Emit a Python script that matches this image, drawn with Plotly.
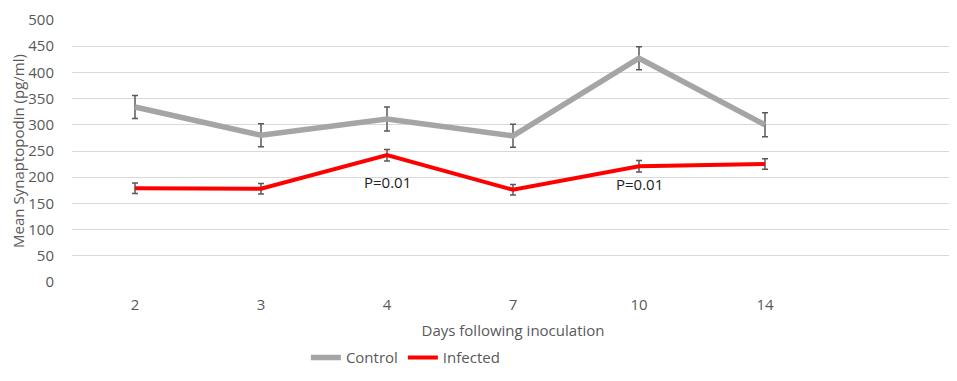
import plotly.graph_objects as go

days = ["2", "3", "4", "7", "10", "14"]
control = [334, 280, 311, 279, 427, 300]
control_err = [22, 22, 23, 22, 22, 23]
infected = [179, 178, 242, 176, 221, 225]
infected_err = [10, 10, 11, 10, 11, 10]
y_ticks = [0, 50, 100, 150, 200, 250, 300, 350, 400, 450, 500]
pvals = [(2, 191, "P=0.01"), (4, 187, "P=0.01")]

xs = list(range(len(days)))
font = "Open Sans, Lato, sans-serif"

fig = go.Figure()
fig.add_trace(go.Scatter(
    x=xs, y=control, mode="lines", name="Control",
    line=dict(color="#A5A5A5", width=5.5),
    error_y=dict(type="data", array=control_err, color="#595959", thickness=1.5, width=3),
))
fig.add_trace(go.Scatter(
    x=xs, y=infected, mode="lines", name="Infected",
    line=dict(color="#FF0000", width=4),
    error_y=dict(type="data", array=infected_err, color="#595959", thickness=1.5, width=3),
))

for xi, yv, txt in pvals:
    fig.add_annotation(x=xi, y=yv, text=txt, showarrow=False,
                       font=dict(family=font, size=15, color="#222222"))

fig.update_layout(
    width=949, height=373,
    margin=dict(l=64, r=3, t=12, b=99, autoexpand=False),
    paper_bgcolor="white", plot_bgcolor="white",
    font=dict(family=font, size=15, color="#595959"),
    showlegend=True,
    legend=dict(orientation="h", x=0.378, xanchor="center",
                yref="container", y=0.062, yanchor="middle",
                font=dict(size=15, color="#595959"), itemwidth=30),
    xaxis=dict(
        range=[-0.5, 6.5], tickmode="array", tickvals=xs, ticktext=days,
        showgrid=False, zeroline=False, showline=False, ticks="",
        ticklabelstandoff=12,
        title=dict(text="Days following inoculation", font=dict(size=15, color="#595959"), standoff=12),
        tickfont=dict(size=15, color="#595959"),
    ),
    yaxis=dict(
        range=[0, 500], tickmode="array", tickvals=y_ticks,
        showgrid=True, gridcolor="#D9D9D9", gridwidth=1, zeroline=False, showline=False,
        ticklabelstandoff=17,
        title=dict(text="Mean Synaptopodin (pg/ml)", font=dict(size=15, color="#595959"), standoff=5),
        tickfont=dict(size=15, color="#595959"),
    ),
)

fig.write_html("out.html")
